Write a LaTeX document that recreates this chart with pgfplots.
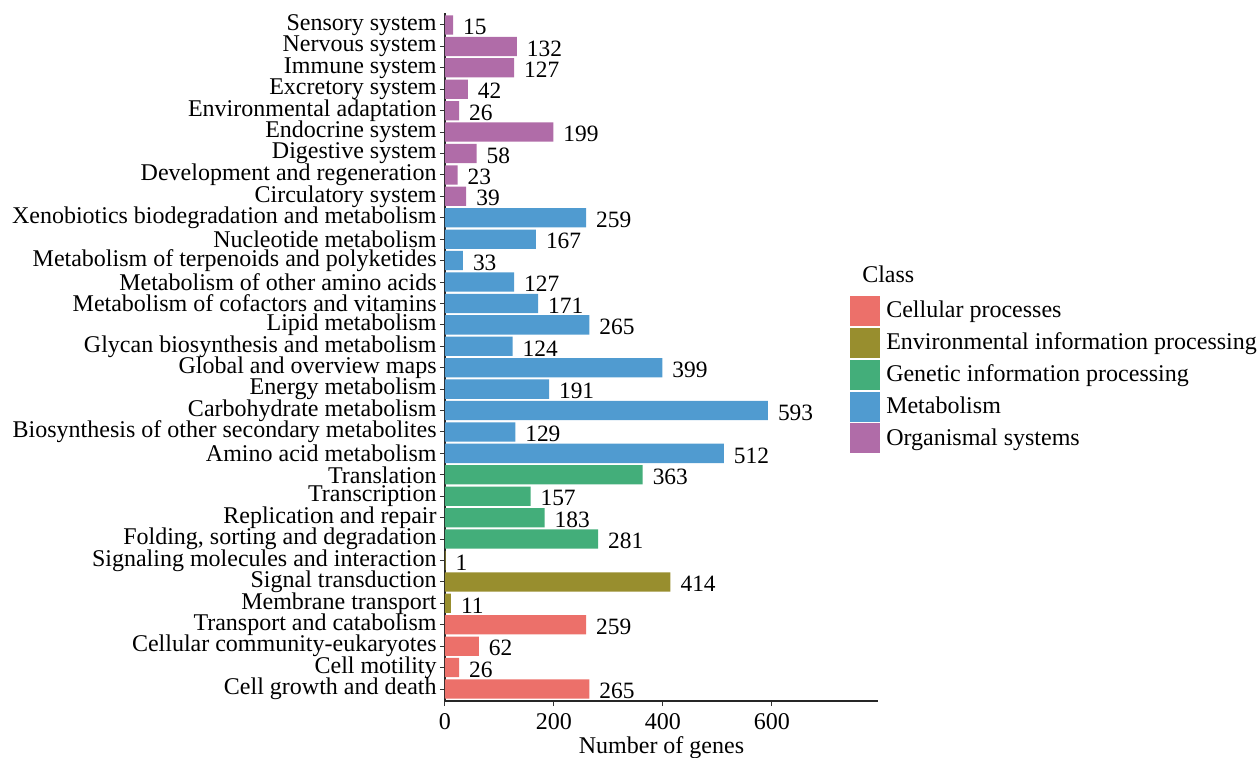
\documentclass[border=0pt]{standalone}
\usepackage{pgfplots}
\pgfplotsset{compat=1.18}
\usepackage{fontspec}
\setmainfont{Liberation Serif}
\definecolor{cCell}{RGB}{236,112,106}
\definecolor{cEnv}{RGB}{152,142,46}
\definecolor{cGen}{RGB}{67,174,122}
\definecolor{cMet}{RGB}{80,155,208}
\definecolor{cOrg}{RGB}{176,108,168}
\begin{document}
\begin{tikzpicture}[font=\fontsize{12}{14}\selectfont]
\begin{axis}[
  name=ax,
  scale only axis,
  width=216.5pt, height=344pt,
  xbar, bar shift=0pt, bar width=0.9,
  xmin=0, xmax=795,
  ymin=-0.56, ymax=31.56,
  axis x line*=bottom, axis y line*=left,
  axis line style={black!85, line width=0.6pt},
  tick align=outside, major tick length=2.5pt,
  tick style={black!80, line width=0.5pt},
  xtick={0,200,400,600},
  ytick={0,...,31},
  yticklabels={Cell growth and death, Cell motility, Cellular community-eukaryotes, Transport and catabolism, Membrane transport, Signal transduction, Signaling molecules and interaction, {Folding, sorting and degradation}, Replication and repair, Transcription, Translation, Amino acid metabolism, Biosynthesis of other secondary metabolites, Carbohydrate metabolism, Energy metabolism, Global and overview maps, Glycan biosynthesis and metabolism, Lipid metabolism, Metabolism of cofactors and vitamins, Metabolism of other amino acids, Metabolism of terpenoids and polyketides, Nucleotide metabolism, Xenobiotics biodegradation and metabolism, Circulatory system, Development and regeneration, Digestive system, Endocrine system, Environmental adaptation, Excretory system, Immune system, Nervous system, Sensory system},
  yticklabel style={inner sep=1.5pt, font=\fontsize{12}{14}\selectfont},
  xticklabel style={font=\fontsize{12}{14}\selectfont},
  /pgf/number format/assume math mode=true,
  xlabel={Number of genes},
  xlabel style={yshift=3pt, font=\fontsize{12}{14}\selectfont},
  point meta=x,
  nodes near coords,
  every node near coord/.append style={anchor=west, xshift=1.5pt, yshift=-1pt, color=black, font=\fontsize{11.7}{14}\selectfont},
  legend style={name=leg, draw=none, fill=none, inner sep=0pt, at={(0.935,0.589)}, anchor=north west, row sep=0.9pt, /tikz/column sep=3pt, nodes={inner sep=0pt, anchor=west}, font=\fontsize{12}{14}\selectfont},
  legend image code/.code={\fill[#1] (0pt,-7.5pt) rectangle (15pt,7.5pt);},
  legend cell align=left,
]
\addplot[fill=cCell, draw=none] coordinates {(265,0) (26,1) (62,2) (259,3)};
\addlegendentry{Cellular processes}
\addplot[fill=cEnv, draw=none] coordinates {(11,4) (414,5) (1,6)};
\addlegendentry{Environmental information processing}
\addplot[fill=cGen, draw=none] coordinates {(281,7) (183,8) (157,9) (363,10)};
\addlegendentry{Genetic information processing}
\addplot[fill=cMet, draw=none] coordinates {(512,11) (129,12) (593,13) (191,14) (399,15) (124,16) (265,17) (171,18) (127,19) (33,20) (167,21) (259,22)};
\addlegendentry{Metabolism}
\addplot[fill=cOrg, draw=none] coordinates {(39,23) (23,24) (58,25) (199,26) (26,27) (42,28) (127,29) (132,30) (15,31)};
\addlegendentry{Organismal systems}
\end{axis}
\node[anchor=west, inner sep=0pt, font=\fontsize{12}{14}\selectfont] at ([xshift=6pt, yshift=10.5pt]leg.north west) {Class};
\pgfresetboundingbox
\path ([xshift=-222.5pt, yshift=6.5pt]ax.north west) rectangle ([xshift=191pt, yshift=-28.5pt]ax.south east);
\end{tikzpicture}
\end{document}
